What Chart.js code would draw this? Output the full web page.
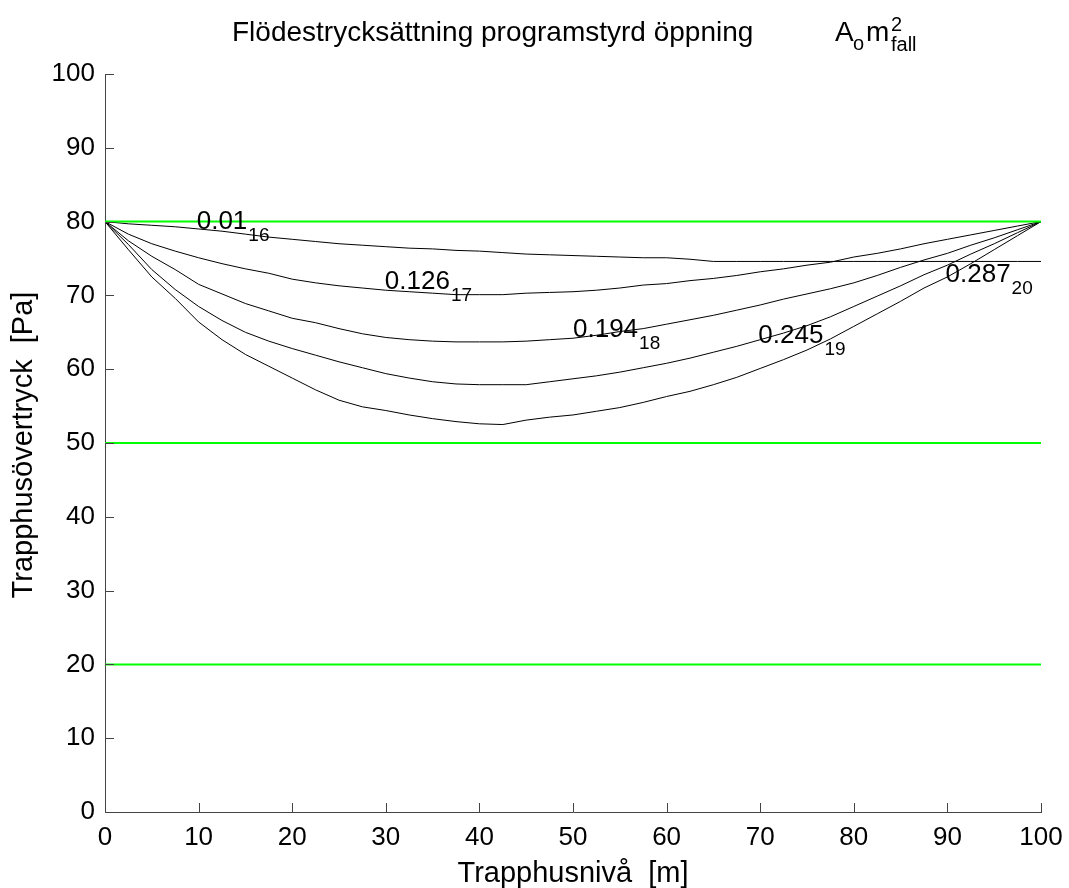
<!DOCTYPE html>
<html>
<head>
<meta charset="utf-8">
<script src="https://cdn.jsdelivr.net/npm/chart.js@4"></script>
<style>
  html, body { margin: 0; padding: 0; background: #fff; }
  #wrap { width: 1069px; height: 888px; }
</style>
</head>
<body>
<div id="wrap"><canvas id="chart" width="1069" height="888"></canvas></div>
<script>
// ====== Data (läst ur bilden) ======
const levels = [0, 2.5, 5, 7.5, 10, 12.5, 15, 17.5, 20, 22.5, 25, 27.5, 30, 32.5, 35, 37.5, 40, 42.5, 45, 47.5,
  50, 52.5, 55, 57.5, 60, 62.5, 65, 67.5, 70, 72.5, 75, 77.5, 80, 82.5, 85, 87.5, 90, 92.5, 95, 97.5, 100];

const p_001 = [80, 79.7, 79.5, 79.3, 79.0, 78.7, 78.3, 77.9, 77.6, 77.3, 77.0, 76.8, 76.6, 76.4, 76.3, 76.1, 76.0, 75.8, 75.6, 75.5,
  75.4, 75.3, 75.2, 75.1, 75.1, 74.9, 74.6, 74.6, 74.6, 74.6, 74.6, 74.6, 74.6, 74.6, 74.6, 74.6, 74.6, 74.6, 74.6, 74.6, 74.6];
const p_0126 = [80, 78.3, 77.0, 76.0, 75.1, 74.3, 73.6, 73.0, 72.2, 71.7, 71.3, 71.0, 70.7, 70.5, 70.3, 70.1, 70.1, 70.1, 70.3, 70.4,
  70.5, 70.7, 71.0, 71.4, 71.6, 72.0, 72.3, 72.7, 73.2, 73.6, 74.1, 74.5, 75.2, 75.7, 76.3, 77.0, 77.6, 78.2, 78.8, 79.4, 80];
const p_0194 = [80, 77.4, 75.3, 73.5, 71.5, 70.2, 68.9, 67.9, 66.9, 66.3, 65.5, 64.8, 64.3, 64.0, 63.8, 63.7, 63.7, 63.7, 63.8, 64.0,
  64.2, 64.6, 65.1, 65.5, 66.1, 66.7, 67.3, 68.0, 68.7, 69.5, 70.2, 70.9, 71.7, 72.7, 73.8, 74.8, 75.7, 76.8, 77.8, 78.9, 80];
const p_0245 = [80, 76.9, 73.5, 70.8, 68.5, 66.6, 65.0, 63.8, 62.8, 61.9, 61.0, 60.2, 59.4, 58.8, 58.3, 58.0, 57.9, 57.9, 57.9, 58.3,
  58.7, 59.1, 59.6, 60.2, 60.8, 61.5, 62.3, 63.1, 64.0, 64.9, 65.9, 67.1, 68.5, 69.9, 71.3, 72.8, 74.1, 75.6, 77.0, 78.5, 80];
const p_0287 = [80, 76.2, 72.5, 69.6, 66.4, 64.0, 62.0, 60.4, 58.8, 57.2, 55.8, 54.9, 54.4, 53.8, 53.3, 52.9, 52.6, 52.5, 53.1, 53.5,
  53.8, 54.3, 54.8, 55.5, 56.3, 57.0, 57.9, 58.9, 60.1, 61.3, 62.6, 64.1, 65.8, 67.5, 69.2, 71.0, 72.5, 74.3, 76.2, 78.1, 80];

// gröna gränslinjer [Pa]
const limits = [80, 50, 20];

// kurvetiketter: text, index, x [m], y [Pa]
const labelText = ["0.01", "0.126", "0.194", "0.245", "0.287"];
const labelSub  = ["16", "17", "18", "19", "20"];
const labelX    = [9.8, 29.9, 50.0, 69.8, 89.8];
const labelY    = [80.0, 71.8, 65.3, 64.5, 72.8];

const xTicks = [0, 10, 20, 30, 40, 50, 60, 70, 80, 90, 100];
const yTicks = [0, 10, 20, 30, 40, 50, 60, 70, 80, 90, 100];

const FONT = "'Liberation Sans', Arial, Helvetica, sans-serif";

function pts(ys) {
  return levels.map((x, i) => ({ x: x, y: ys[i] }));
}

const datasets = [];
limits.forEach(v => {
  datasets.push({ data: [{ x: 0, y: v }, { x: 100, y: v }], borderColor: "#00ff00", borderWidth: 2, pointRadius: 0 });
});
[p_001, p_0126, p_0194, p_0245, p_0287].forEach(s => {
  datasets.push({ data: pts(s), borderColor: "#000", borderWidth: 1, pointRadius: 0 });
});

// ====== Extra ritning: inåtriktade ticks, etiketter, titlar ======
const extras = {
  id: "extras",
  afterDraw(chart) {
    const ctx = chart.ctx;
    const xs = chart.scales.x, ys = chart.scales.y;
    const a = chart.chartArea;
    ctx.save();
    // ticks inåt
    ctx.strokeStyle = "#444";
    ctx.lineWidth = 1;
    ctx.beginPath();
    xTicks.forEach(t => {
      const px = Math.round(xs.getPixelForValue(t)) + 0.5;
      ctx.moveTo(px, a.bottom); ctx.lineTo(px, a.bottom - 9);
    });
    yTicks.forEach(t => {
      const py = Math.round(ys.getPixelForValue(t)) + 0.5;
      ctx.moveTo(a.left, py); ctx.lineTo(a.left + 9, py);
    });
    ctx.stroke();

    // kurvetiketter
    ctx.fillStyle = "#000";
    ctx.textBaseline = "middle";
    ctx.textAlign = "left";
    labelText.forEach((t, i) => {
      const px = xs.getPixelForValue(labelX[i]);
      const py = ys.getPixelForValue(labelY[i]);
      ctx.font = "26px " + FONT;
      ctx.fillText(t, px, py);
      const w = ctx.measureText(t).width;
      ctx.font = "19px " + FONT;
      ctx.fillText(labelSub[i], px + w + 1, py + 14);
    });

    // titel
    ctx.textBaseline = "alphabetic";
    ctx.font = "28px " + FONT;
    ctx.fillText("Flödestrycksättning programstyrd öppning", 232, 41);
    ctx.fillText("A", 835, 41);
    ctx.fillText("m", 866, 41);
    ctx.font = "20px " + FONT;
    ctx.fillText("o", 853, 50);
    ctx.fillText("2", 891, 31);
    ctx.fillText("fall", 891, 51);

    // axeltitlar
    ctx.font = "29px " + FONT;
    ctx.textAlign = "center";
    ctx.fillText("Trapphusnivå  [m]", 573, 882);
    ctx.translate(32, 445);
    ctx.rotate(-Math.PI / 2);
    ctx.fillText("Trapphusövertryck  [Pa]", 0, 0);
    ctx.restore();
  }
};

new Chart(document.getElementById("chart"), {
  type: "line",
  data: { datasets },
  options: {
    responsive: false,
    animation: false,
    layout: { padding: { top: 74, right: 28, left: 0, bottom: 0 } },
    plugins: { legend: { display: false }, title: { display: false }, tooltip: { enabled: false } },
    elements: { line: { tension: 0 } },
    scales: {
      x: {
        type: "linear", min: 0, max: 100,
        afterFit: s => { s.height = 76; s.paddingLeft = 0; s.paddingRight = 0; },
        afterBuildTicks: s => { s.ticks = xTicks.map(v => ({ value: v })); },
        grid: { display: true, drawOnChartArea: false, drawTicks: false },
        border: { display: true, color: "#444", width: 1 },
        ticks: { color: "#000", padding: 10, maxRotation: 0, font: { family: FONT, size: 26 } }
      },
      y: {
        type: "linear", min: 0, max: 100,
        afterFit: s => { s.width = 105; s.paddingTop = 0; s.paddingBottom = 0; },
        afterBuildTicks: s => { s.ticks = yTicks.map(v => ({ value: v })); },
        grid: { display: true, drawOnChartArea: false, drawTicks: false },
        border: { display: true, color: "#444", width: 1 },
        ticks: { color: "#000", padding: 10, font: { family: FONT, size: 26 } }
      }
    }
  },
  plugins: [extras]
});
</script>
</body>
</html>
